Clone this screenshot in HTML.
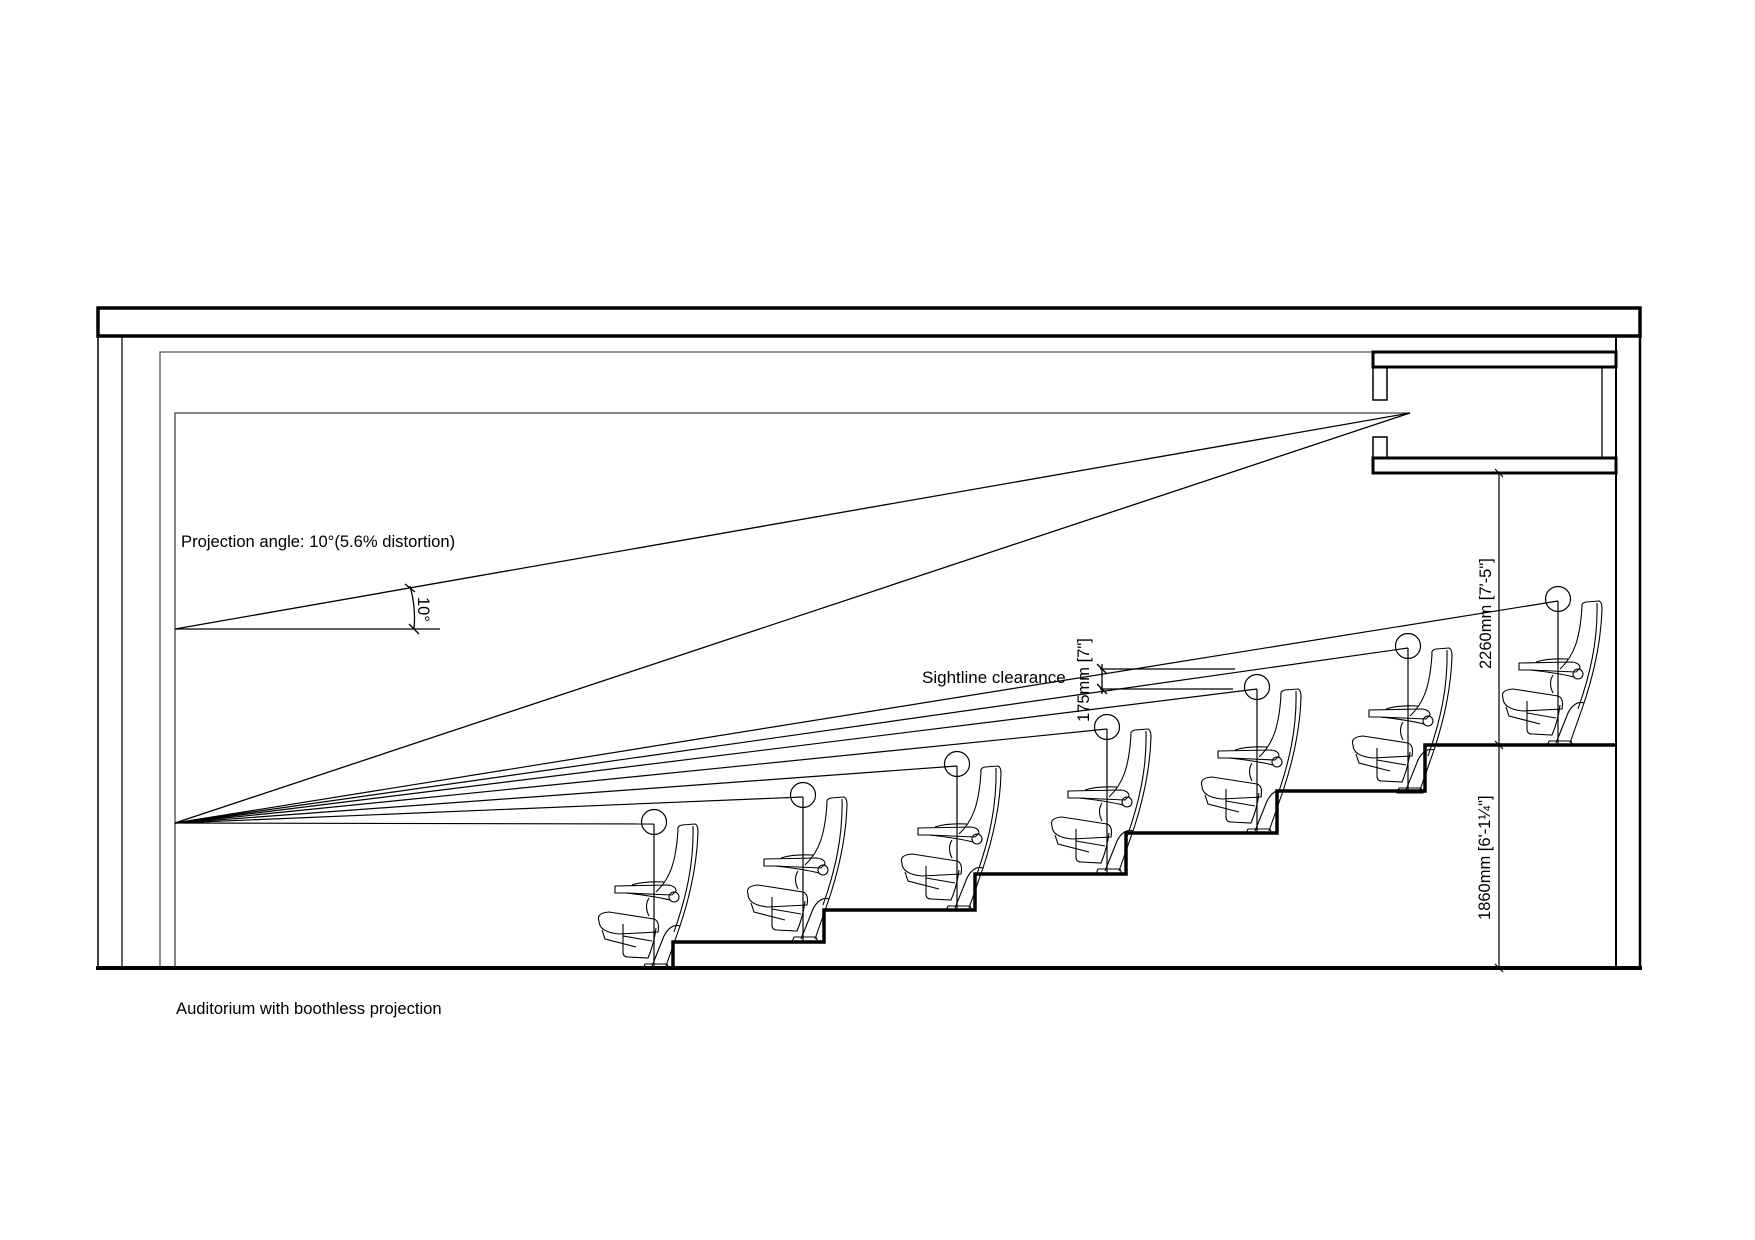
<!DOCTYPE html>
<html><head><meta charset="utf-8"><style>html,body{margin:0;padding:0;background:#fff}svg{display:block}text{font-family:"Liberation Sans",sans-serif;fill:#000}</style></head>
<body>
<svg width="1755" height="1240" viewBox="0 0 1755 1240" xmlns="http://www.w3.org/2000/svg">
<defs>
<g id="chair" fill="none" stroke="#000" stroke-width="1.1">
  <path d="M24,6 Q23,2 28,1 L41,0 Q44,1 44,8 C43,40 36,72 26,102 L12,142"/>
  <path d="M39,2 C40,40 32,74 20,108"/>
  <path d="M24,6 C22,38 16,55 2,68"/>
  <path d="M26,102 C20,100 14,104 10,112 L-2,142"/>
  <circle cx="20" cy="73" r="5"/>
  <path d="M-39,62 L14,61 Q22,62 22,67 L18,71 L-28,69 L-39,69 Z"/>
  <path d="M-22,61 Q-10,57 10,58"/>
  <path d="M-28,69 Q0,72 16,76"/>
  <path d="M-5,74 Q-10,82 -5,92"/>
  <path d="M-55,97 Q-58,89 -45,88 L0,95 Q6,97 4,108 L-35,110 Q-55,108 -55,97 Z"/>
  <path d="M-52,106 L-49,115 L-18,123"/>
  <path d="M-31,100 L-31,128 Q-31,133 -26,133 L-6,134 Q0,120 2,104"/>
  <path d="M-31,112 L-2,117"/>
  <path d="M-9,140 L13,140 L15,145 L-11,145 Z"/>
</g>
</defs>
<g fill="none" stroke="#000">
  <rect x="98" y="308" width="1542" height="28" stroke-width="3.5"/>
  <line x1="98" y1="336" x2="98" y2="968" stroke-width="1.5"/>
  <line x1="122" y1="336" x2="122" y2="968" stroke-width="1.2"/>
  <line x1="1640" y1="336" x2="1640" y2="968" stroke-width="2.5"/>
  <line x1="1616" y1="336" x2="1616" y2="968" stroke-width="2"/>
  <polyline points="160,968 160,352 1373,352" stroke="#555" stroke-width="1.3"/>
  <polyline points="175,968 175,413 1410,413" stroke="#444" stroke-width="1.3"/>
  <rect x="1373" y="352" width="243" height="15" stroke-width="3"/>
  <rect x="1373" y="367" width="14" height="33" stroke-width="1.5"/>
  <rect x="1373" y="437" width="14" height="21" stroke-width="1.5"/>
  <rect x="1373" y="458" width="243" height="15" stroke-width="3"/>
  <line x1="1602" y1="367" x2="1602" y2="458" stroke-width="1.3"/>
  <g stroke-width="1.3">
  <line x1="1410" y1="413" x2="175" y2="629"/>
  <line x1="1410" y1="413" x2="175" y2="823"/>
  <line x1="175" y1="629" x2="440" y2="629"/>
  <path d="M410,586 Q416,607 414,629"/>
  <line x1="405" y1="584" x2="415" y2="592"/>
  <line x1="409" y1="624" x2="419" y2="634"/>
  </g>
  <line x1="96" y1="968" x2="1642" y2="968" stroke-width="4"/>
  <polyline points="673,968 673,942 824,942 824,910 975,910 975,874 1126,874 1126,833 1277,833 1277,791 1425,791 1425,745 1616,745" stroke-width="3.5"/>
  <g stroke-width="1.2">
  <line x1="175" y1="823" x2="654" y2="824"/>
  <line x1="175" y1="823" x2="803" y2="797"/>
  <line x1="175" y1="823" x2="957" y2="766"/>
  <line x1="175" y1="823" x2="1107" y2="729"/>
  <line x1="175" y1="823" x2="1257" y2="689"/>
  <line x1="175" y1="823" x2="1408" y2="648"/>
  <line x1="175" y1="823" x2="1558" y2="601"/>
  <line x1="654" y1="824" x2="654" y2="968"/>
  <line x1="803" y1="797" x2="803" y2="942"/>
  <line x1="957" y1="766" x2="957" y2="910"/>
  <line x1="1107" y1="729" x2="1107" y2="874"/>
  <line x1="1257" y1="689" x2="1257" y2="833"/>
  <line x1="1408" y1="648" x2="1408" y2="791"/>
  <line x1="1558" y1="601" x2="1558" y2="745"/>
  </g>
  <g stroke-width="1.2">
  <circle cx="654" cy="822" r="12.5"/>
  <circle cx="803" cy="795" r="12.5"/>
  <circle cx="957" cy="764" r="12.5"/>
  <circle cx="1107" cy="727" r="12.5"/>
  <circle cx="1257" cy="687" r="12.5"/>
  <circle cx="1408" cy="646" r="12.5"/>
  <circle cx="1558" cy="599" r="12.5"/>
  </g>
  <g stroke-width="1.3">
  <line x1="1100" y1="669" x2="1235" y2="669"/>
  <line x1="1100" y1="689" x2="1233" y2="689"/>
  <line x1="1102" y1="664" x2="1102" y2="694"/>
  <line x1="1097" y1="664" x2="1107" y2="674"/>
  <line x1="1097" y1="684" x2="1107" y2="694"/>
  </g>
  <g stroke-width="1.2">
  <line x1="1499" y1="473" x2="1499" y2="968"/>
  <line x1="1495" y1="469" x2="1503" y2="477"/>
  <line x1="1495" y1="741" x2="1503" y2="749"/>
  <line x1="1495" y1="964" x2="1503" y2="972"/>
  </g>
</g>
<use href="#chair" x="654" y="824"/>
<use href="#chair" x="803" y="797"/>
<use href="#chair" x="957" y="766"/>
<use href="#chair" x="1107" y="729"/>
<use href="#chair" x="1257" y="689"/>
<use href="#chair" x="1408" y="648"/>
<use href="#chair" x="1558" y="601"/>
<text x="181" y="547" font-size="16.6">Projection angle: 10°(5.6% distortion)</text>
<text transform="translate(418,597) rotate(90)" font-size="16.5">10°</text>
<text x="922" y="683" font-size="17">Sightline clearance</text>
<text transform="translate(1089,722) rotate(-90)" font-size="16.5">175mm [7"]</text>
<text transform="translate(1491,669) rotate(-90)" font-size="16.5">2260mm [7'-5"]</text>
<text transform="translate(1490,920) rotate(-90)" font-size="16.5">1860mm [6'-1¼"]</text>
<text x="176" y="1014" font-size="16.6">Auditorium with boothless projection</text>
</svg>
</body></html>
